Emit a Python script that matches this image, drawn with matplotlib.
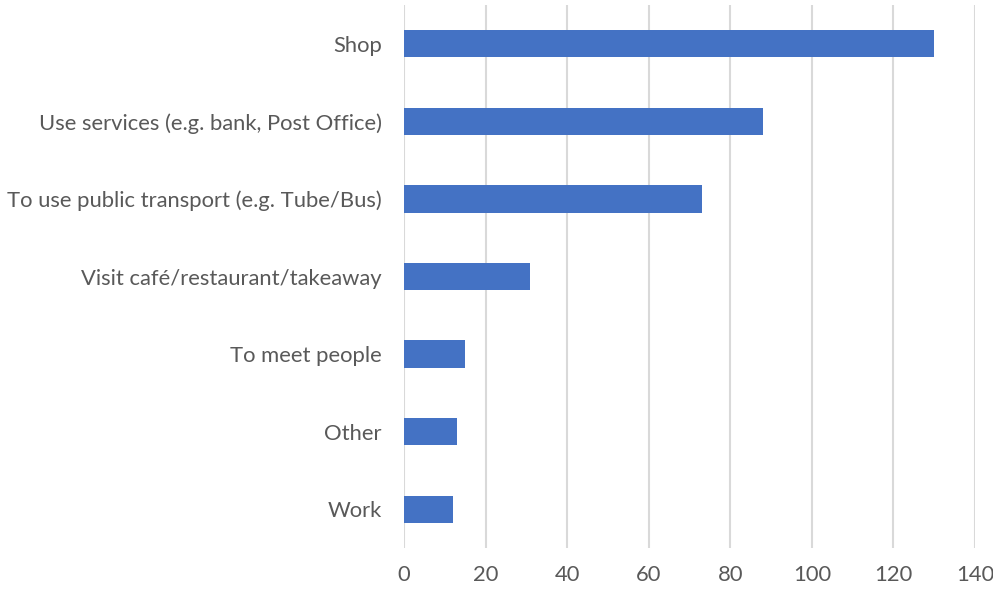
import matplotlib.pyplot as plt
import numpy as np

categories = [
    'Shop',
    'Use services (e.g. bank, Post Office)',
    'To use public transport (e.g. Tube/Bus)',
    'Visit café/restaurant/takeaway',
    'To meet people',
    'Other',
    'Work',
]
counts = [130, 88, 73, 31, 15, 13, 12]

plt.rcParams['font.family'] = ['Lato', 'DejaVu Sans']

fig = plt.figure(figsize=(9.93, 5.91), dpi=100)
ax = fig.add_axes([404 / 993, 43 / 591, 571 / 993, 543 / 591])

y = np.arange(len(categories))
ax.barh(y, counts, height=0.35, color='#4472C4', zorder=3)

ax.set_xlim(0, 140)
ax.set_ylim(len(categories) - 0.5, -0.5)
ax.set_xticks(range(0, 141, 20))
ax.set_yticks(y)
ax.set_yticklabels(categories)

ax.grid(axis='x', color='#d9d9d9', linewidth=1.5, zorder=0)
for s in ax.spines.values():
    s.set_visible(False)
ax.tick_params(axis='both', length=0, labelsize=15.8, labelcolor='#595959')
ax.tick_params(axis='x', pad=12)
ax.tick_params(axis='y', pad=16)

fig.savefig('out.png', dpi=100)
